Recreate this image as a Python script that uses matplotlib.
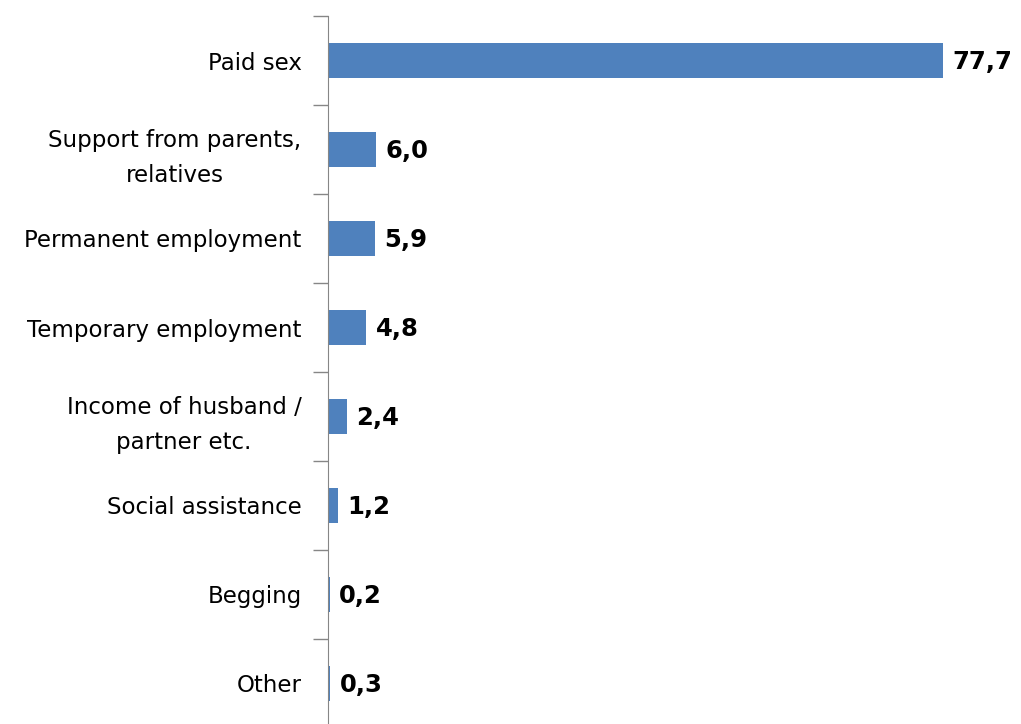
import numpy as np
import matplotlib.pyplot as plt

categories = ["Paid sex", "Support from parents,\nrelatives", "Permanent employment",
              "Temporary employment", "Income of husband /\npartner etc.",
              "Social assistance", "Begging", "Other"]
values = [77.7, 6.0, 5.9, 4.8, 2.4, 1.2, 0.2, 0.3]
value_labels = ["77,7", "6,0", "5,9", "4,8", "2,4", "1,2", "0,2", "0,3"]

fig = plt.figure(figsize=(10.21, 7.24), dpi=100)
# axes: left edge at the category axis, bottom slightly below the figure
ax = fig.add_axes([328 / 1021, -4 / 724, 681 / 1021, 712 / 724])

y = np.arange(len(categories))
ax.barh(y, values, height=0.4, color="#4F81BD")
ax.set_ylim(len(categories) - 0.5, -0.5)
ax.set_xlim(0, 86)

for yi, v, lab in zip(y, values, value_labels):
    ax.text(v + 1.2, yi + 0.02, lab, va="center", ha="left", fontsize=17.5,
            fontweight="bold", color="black")

ax.set_yticks(y)
ax.set_yticklabels(categories, fontsize=16.5, multialignment="center",
                   linespacing=1.65)
ax.tick_params(axis="y", length=0, pad=19)
ax.set_yticks(np.arange(len(categories) + 1) - 0.5, minor=True)
ax.tick_params(axis="y", which="minor", length=11, color="#868686", width=1)
ax.set_xticks([])

for side in ["top", "right", "bottom"]:
    ax.spines[side].set_visible(False)
ax.spines["left"].set_color("#868686")

fig.savefig("out.png", dpi=100)
